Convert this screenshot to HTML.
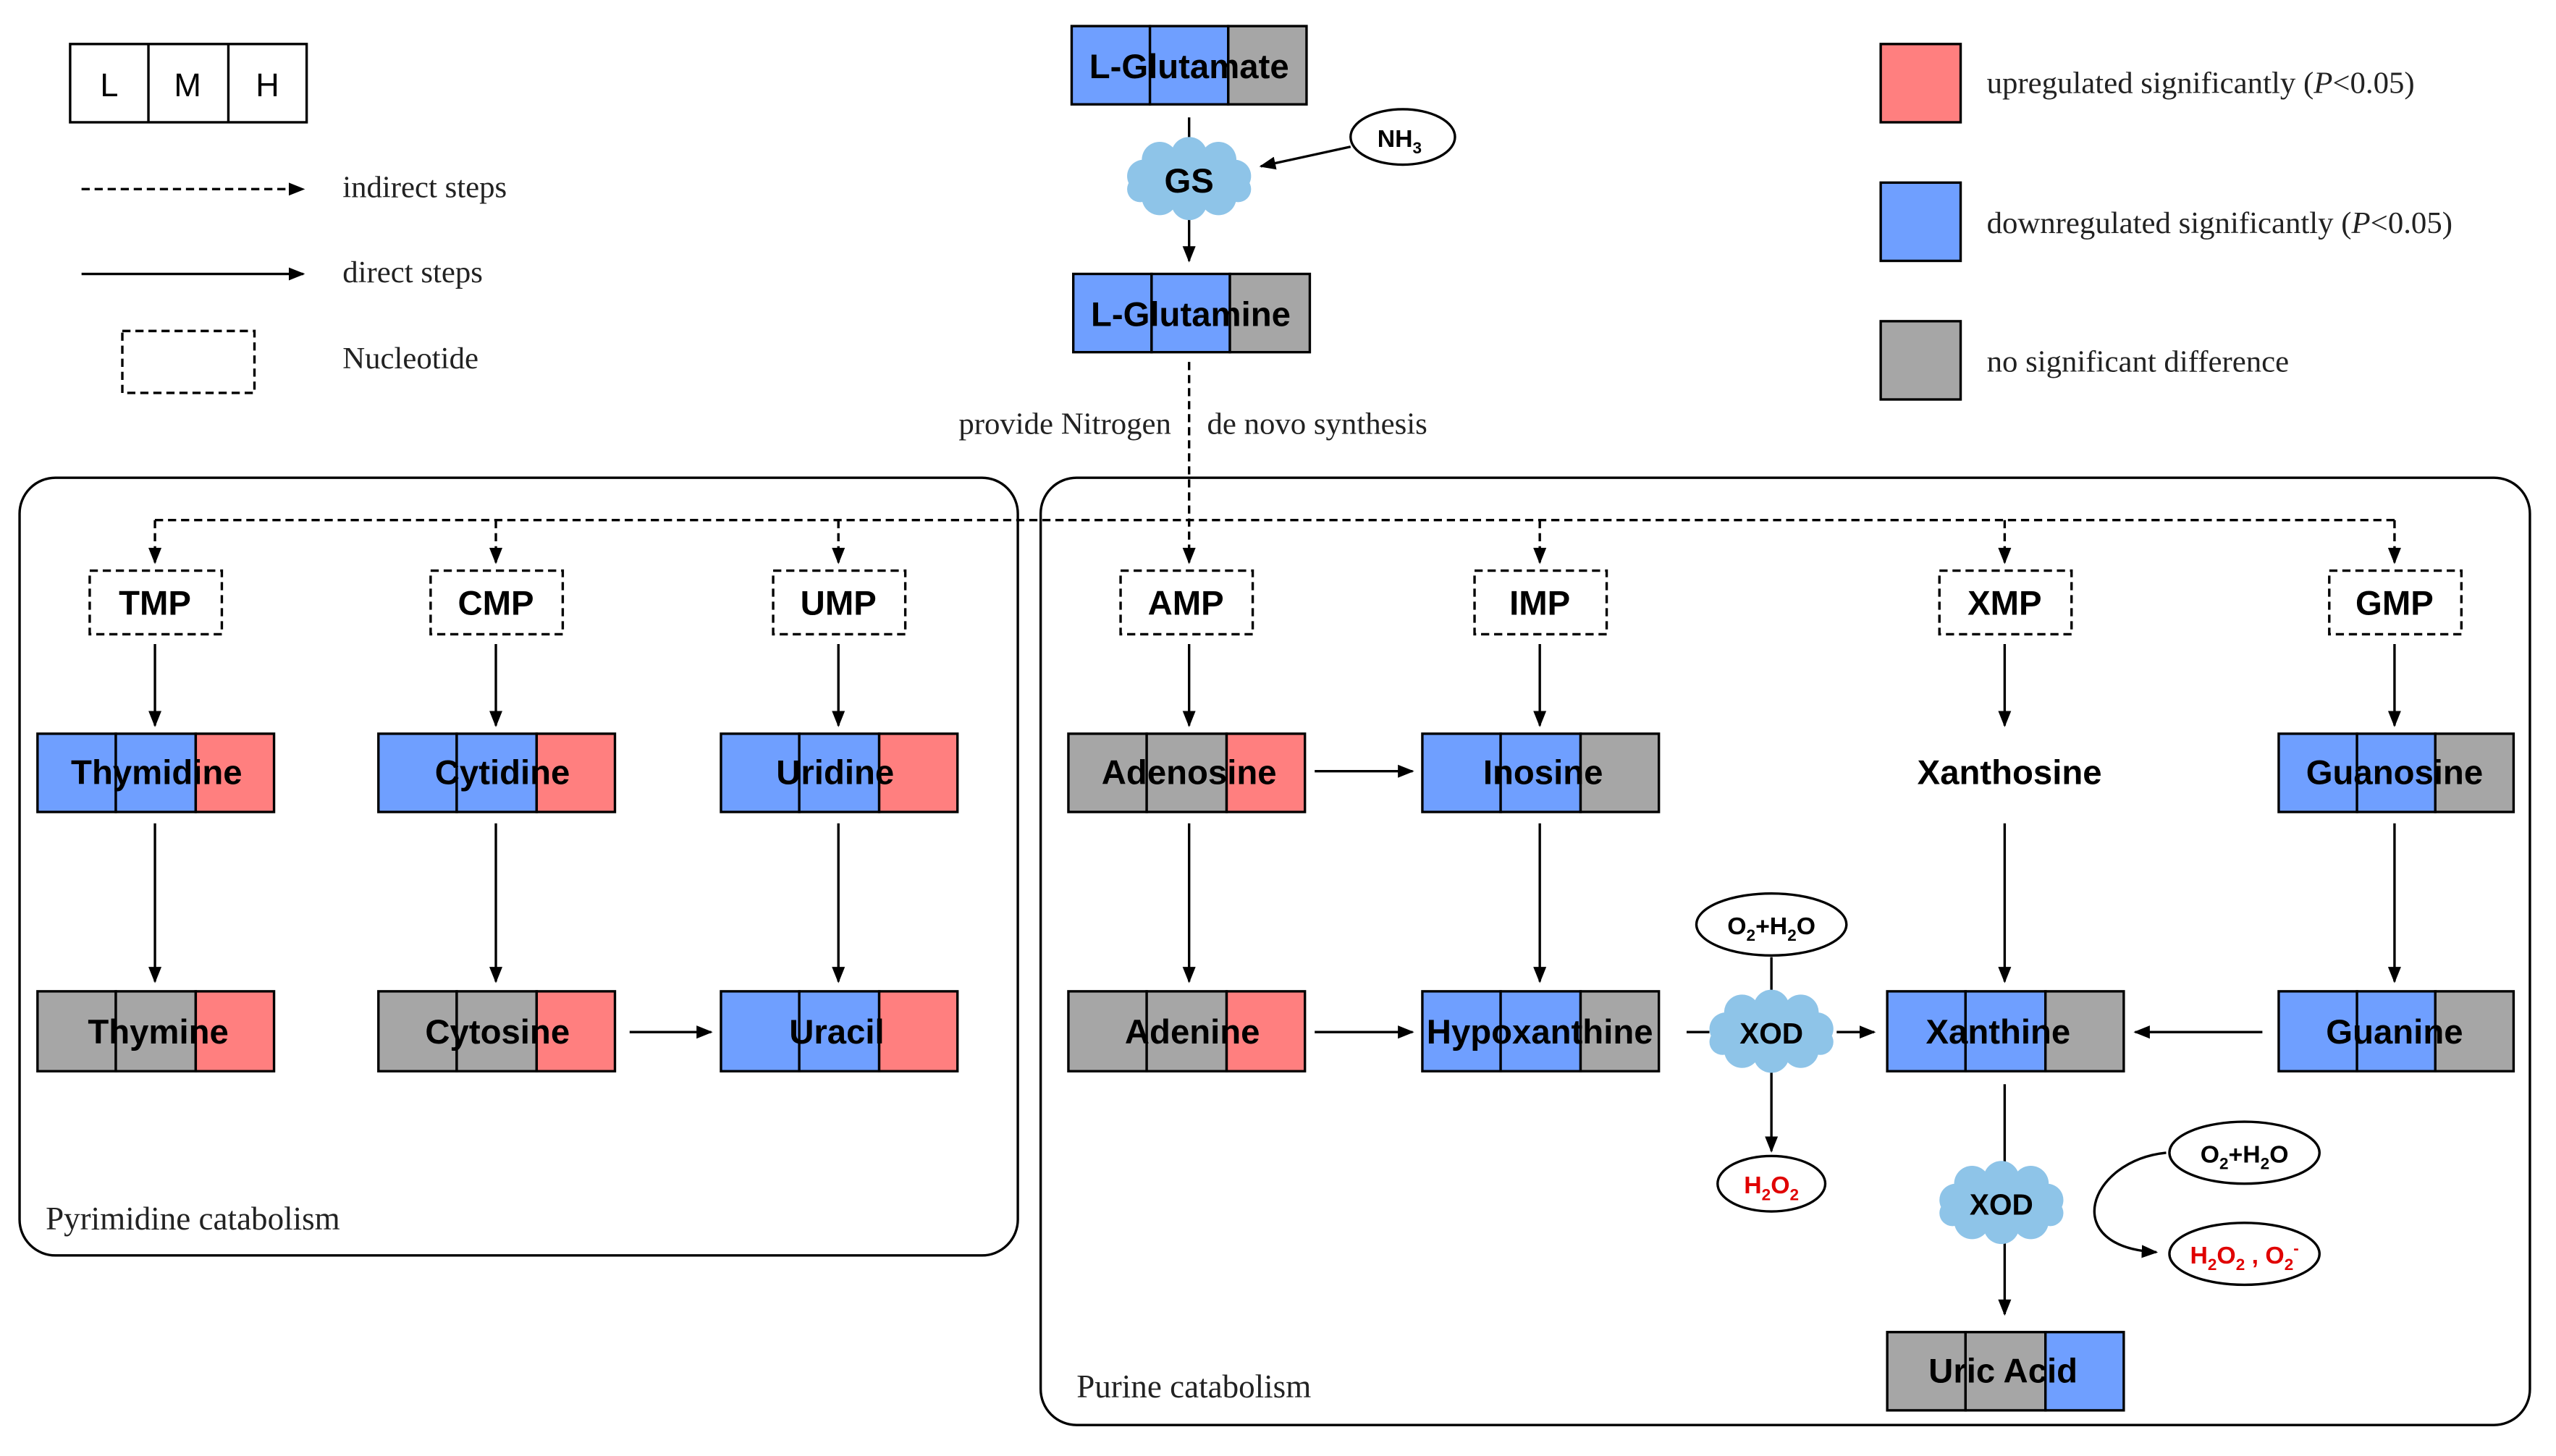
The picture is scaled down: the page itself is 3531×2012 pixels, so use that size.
<!DOCTYPE html>
<html><head><meta charset="utf-8"><style>
html,body{margin:0;padding:0;background:#fff}
svg{display:block}
.b{font-family:"Liberation Sans",Arial,sans-serif;font-weight:bold;fill:#000}
.s{font-family:"Liberation Serif","Times New Roman",serif;fill:#222}
</style></head><body>
<svg width="3531" height="2012" viewBox="0 0 1567 893" preserveAspectRatio="none" xmlns="http://www.w3.org/2000/svg">
<defs>
<marker id="ah" markerWidth="10" markerHeight="10" refX="9" refY="5" orient="auto" markerUnits="userSpaceOnUse"><path d="M0,1 L10,5 L0,9 z" fill="#000"/></marker>
<g id="cloud" fill="#8ec4e8">
<ellipse cx="0" cy="0" rx="32" ry="17"/>
<circle cx="-28" cy="-2" r="10"/><circle cx="28" cy="-2" r="10"/>
<circle cx="-18" cy="-12" r="11"/><circle cx="0" cy="-15" r="11"/><circle cx="18" cy="-12" r="11"/>
<circle cx="-18" cy="11" r="11"/><circle cx="0" cy="14" r="11"/><circle cx="18" cy="11" r="11"/>
<circle cx="-30" cy="6" r="8"/><circle cx="30" cy="6" r="8"/>
</g>
</defs>
<g stroke="#000" stroke-width="1.5" fill="none">
<rect x="43" y="27" width="145" height="48" fill="#fff"/>
<line x1="91" y1="27" x2="91" y2="75"/><line x1="140" y1="27" x2="140" y2="75"/>
<line x1="50" y1="116" x2="186" y2="116" stroke-dasharray="5,3" marker-end="url(#ah)"/>
<line x1="50" y1="168" x2="186" y2="168" marker-end="url(#ah)"/>
<rect x="75" y="203" width="81" height="38" stroke-dasharray="5,3"/>
<rect x="1153" y="27" width="49" height="48" fill="#ff7f7f"/>
<rect x="1153" y="112" width="49" height="48" fill="#6f9fff"/>
<rect x="1153" y="197" width="49" height="48" fill="#a6a6a6"/>
<rect x="12" y="293" width="612" height="477" rx="22"/>
<rect x="638" y="293" width="913" height="581" rx="22"/>
</g>
<text class="b" x="67" y="59" font-size="20" text-anchor="middle" style="font-weight:normal">L</text>
<text class="b" x="115" y="59" font-size="20" text-anchor="middle" style="font-weight:normal">M</text>
<text class="b" x="164" y="59" font-size="20" text-anchor="middle" style="font-weight:normal">H</text>
<text class="s" x="210" y="121" font-size="19">indirect steps</text>
<text class="s" x="210" y="173" font-size="19">direct steps</text>
<text class="s" x="210" y="226" font-size="19">Nucleotide</text>
<text class="s" x="1218" y="57" font-size="19">upregulated significantly  (<tspan font-style="italic">P</tspan>&lt;0.05)</text>
<text class="s" x="1218" y="143" font-size="19">downregulated significantly (<tspan font-style="italic">P</tspan>&lt;0.05)</text>
<text class="s" x="1218" y="228" font-size="19">no significant  difference</text>
<text class="s" x="28" y="754" font-size="20">Pyrimidine catabolism</text>
<text class="s" x="660" y="857" font-size="20">Purine catabolism</text>
<text class="s" x="718" y="266" font-size="19" text-anchor="end">provide Nitrogen</text>
<text class="s" x="740" y="266" font-size="19">de novo synthesis</text>

<g stroke="#000" stroke-width="1.5">
<rect x="657" y="16" width="48" height="48" fill="#6f9fff"/><rect x="705" y="16" width="48" height="48" fill="#6f9fff"/><rect x="753" y="16" width="48" height="48" fill="#a6a6a6"/>
<rect x="658" y="168" width="48" height="48" fill="#6f9fff"/><rect x="706" y="168" width="48" height="48" fill="#6f9fff"/><rect x="754" y="168" width="49" height="48" fill="#a6a6a6"/>
<rect x="23" y="450" width="48" height="48" fill="#6f9fff"/><rect x="71" y="450" width="49" height="48" fill="#6f9fff"/><rect x="120" y="450" width="48" height="48" fill="#ff7f7f"/>
<rect x="232" y="450" width="48" height="48" fill="#6f9fff"/><rect x="280" y="450" width="49" height="48" fill="#6f9fff"/><rect x="329" y="450" width="48" height="48" fill="#ff7f7f"/>
<rect x="442" y="450" width="48" height="48" fill="#6f9fff"/><rect x="490" y="450" width="49" height="48" fill="#6f9fff"/><rect x="539" y="450" width="48" height="48" fill="#ff7f7f"/>
<rect x="655" y="450" width="48" height="48" fill="#a6a6a6"/><rect x="703" y="450" width="49" height="48" fill="#a6a6a6"/><rect x="752" y="450" width="48" height="48" fill="#ff7f7f"/>
<rect x="872" y="450" width="48" height="48" fill="#6f9fff"/><rect x="920" y="450" width="49" height="48" fill="#6f9fff"/><rect x="969" y="450" width="48" height="48" fill="#a6a6a6"/>
<rect x="1397" y="450" width="48" height="48" fill="#6f9fff"/><rect x="1445" y="450" width="48" height="48" fill="#6f9fff"/><rect x="1493" y="450" width="48" height="48" fill="#a6a6a6"/>
<rect x="23" y="608" width="48" height="49" fill="#a6a6a6"/><rect x="71" y="608" width="49" height="49" fill="#a6a6a6"/><rect x="120" y="608" width="48" height="49" fill="#ff7f7f"/>
<rect x="232" y="608" width="48" height="49" fill="#a6a6a6"/><rect x="280" y="608" width="49" height="49" fill="#a6a6a6"/><rect x="329" y="608" width="48" height="49" fill="#ff7f7f"/>
<rect x="442" y="608" width="48" height="49" fill="#6f9fff"/><rect x="490" y="608" width="49" height="49" fill="#6f9fff"/><rect x="539" y="608" width="48" height="49" fill="#ff7f7f"/>
<rect x="655" y="608" width="48" height="49" fill="#a6a6a6"/><rect x="703" y="608" width="49" height="49" fill="#a6a6a6"/><rect x="752" y="608" width="48" height="49" fill="#ff7f7f"/>
<rect x="872" y="608" width="48" height="49" fill="#6f9fff"/><rect x="920" y="608" width="49" height="49" fill="#6f9fff"/><rect x="969" y="608" width="48" height="49" fill="#a6a6a6"/>
<rect x="1157" y="608" width="48" height="49" fill="#6f9fff"/><rect x="1205" y="608" width="49" height="49" fill="#6f9fff"/><rect x="1254" y="608" width="48" height="49" fill="#a6a6a6"/>
<rect x="1397" y="608" width="48" height="49" fill="#6f9fff"/><rect x="1445" y="608" width="48" height="49" fill="#6f9fff"/><rect x="1493" y="608" width="48" height="49" fill="#a6a6a6"/>
<rect x="1157" y="817" width="48" height="48" fill="#a6a6a6"/><rect x="1205" y="817" width="49" height="48" fill="#a6a6a6"/><rect x="1254" y="817" width="48" height="48" fill="#6f9fff"/>
</g>

<g stroke="#000" stroke-width="1.5" fill="#fff" stroke-dasharray="5,3">
<rect x="55" y="350" width="81" height="39"/><rect x="264" y="350" width="81" height="39"/><rect x="474" y="350" width="81" height="39"/>
<rect x="687" y="350" width="81" height="39"/><rect x="904" y="350" width="81" height="39"/><rect x="1189" y="350" width="81" height="39"/><rect x="1428" y="350" width="81" height="39"/>
</g>

<g stroke="#000" stroke-width="1.5" fill="none">
<line x1="729" y1="72" x2="729" y2="96"/>
<line x1="729" y1="130" x2="729" y2="160" marker-end="url(#ah)"/>
<line x1="828" y1="90" x2="773" y2="102" marker-end="url(#ah)"/>
<g stroke-dasharray="5,3">
<line x1="729" y1="222" x2="729" y2="345" marker-end="url(#ah)"/>
<line x1="95" y1="319" x2="1468" y2="319"/>
<line x1="95" y1="319" x2="95" y2="345" marker-end="url(#ah)"/>
<line x1="304" y1="319" x2="304" y2="345" marker-end="url(#ah)"/>
<line x1="514" y1="319" x2="514" y2="345" marker-end="url(#ah)"/>
<line x1="944" y1="319" x2="944" y2="345" marker-end="url(#ah)"/>
<line x1="1229" y1="319" x2="1229" y2="345" marker-end="url(#ah)"/>
<line x1="1468" y1="319" x2="1468" y2="345" marker-end="url(#ah)"/>
</g>
<line x1="95" y1="395" x2="95" y2="445" marker-end="url(#ah)"/>
<line x1="304" y1="395" x2="304" y2="445" marker-end="url(#ah)"/>
<line x1="514" y1="395" x2="514" y2="445" marker-end="url(#ah)"/>
<line x1="729" y1="395" x2="729" y2="445" marker-end="url(#ah)"/>
<line x1="944" y1="395" x2="944" y2="445" marker-end="url(#ah)"/>
<line x1="1229" y1="395" x2="1229" y2="445" marker-end="url(#ah)"/>
<line x1="1468" y1="395" x2="1468" y2="445" marker-end="url(#ah)"/>
<line x1="95" y1="505" x2="95" y2="602" marker-end="url(#ah)"/>
<line x1="304" y1="505" x2="304" y2="602" marker-end="url(#ah)"/>
<line x1="514" y1="505" x2="514" y2="602" marker-end="url(#ah)"/>
<line x1="729" y1="505" x2="729" y2="602" marker-end="url(#ah)"/>
<line x1="944" y1="505" x2="944" y2="602" marker-end="url(#ah)"/>
<line x1="1229" y1="505" x2="1229" y2="602" marker-end="url(#ah)"/>
<line x1="1468" y1="505" x2="1468" y2="602" marker-end="url(#ah)"/>
<line x1="806" y1="473" x2="866" y2="473" marker-end="url(#ah)"/>
<line x1="386" y1="633" x2="436" y2="633" marker-end="url(#ah)"/>
<line x1="806" y1="633" x2="866" y2="633" marker-end="url(#ah)"/>
<line x1="1034" y1="633" x2="1048" y2="633"/>
<line x1="1126" y1="633" x2="1149" y2="633" marker-end="url(#ah)"/>
<line x1="1387" y1="633" x2="1309" y2="633" marker-end="url(#ah)"/>
<line x1="1086" y1="587" x2="1086" y2="612"/>
<line x1="1086" y1="655" x2="1086" y2="706" marker-end="url(#ah)"/>
<line x1="1229" y1="665" x2="1229" y2="716"/>
<line x1="1229" y1="762" x2="1229" y2="806" marker-end="url(#ah)"/>
<path d="M1328,707 C1280,712 1262,765 1322,768" marker-end="url(#ah)"/>
<ellipse cx="860" cy="84" rx="32" ry="17" fill="#fff"/>
<ellipse cx="1086" cy="567" rx="46" ry="19" fill="#fff"/>
<ellipse cx="1086" cy="726" rx="33" ry="17" fill="#fff"/>
<ellipse cx="1376" cy="707" rx="46" ry="19" fill="#fff"/>
<ellipse cx="1376" cy="769" rx="46" ry="19" fill="#fff"/>
</g>

<use href="#cloud" x="729" y="110"/>
<use href="#cloud" x="1086" y="633"/>
<use href="#cloud" x="1227" y="738"/>

<g class="b" font-size="21" text-anchor="middle">
<text x="729" y="48">L-Glutamate</text>
<text x="730" y="200">L-Glutamine</text>
<text x="729" y="118">GS</text>
<text x="95" y="377">TMP</text><text x="304" y="377">CMP</text><text x="514" y="377">UMP</text>
<text x="727" y="377">AMP</text><text x="944" y="377">IMP</text><text x="1229" y="377">XMP</text><text x="1468" y="377">GMP</text>
<text x="96" y="481">Thymidine</text><text x="308" y="481">Cytidine</text><text x="512" y="481">Uridine</text>
<text x="729" y="481">Adenosine</text><text x="946" y="481">Inosine</text><text x="1232" y="481">Xanthosine</text><text x="1468" y="481">Guanosine</text>
<text x="97" y="640">Thymine</text><text x="305" y="640">Cytosine</text><text x="513" y="640">Uracil</text>
<text x="731" y="640">Adenine</text><text x="944" y="640">Hypoxanthine</text><text x="1225" y="640">Xanthine</text><text x="1468" y="640">Guanine</text>
<text x="1228" y="848">Uric Acid</text>
</g>
<g class="b" font-size="18" text-anchor="middle">
<text x="1086" y="640">XOD</text>
<text x="1227" y="745">XOD</text>
</g>
<g class="b" font-size="15" text-anchor="middle">
<text x="858" y="90">NH<tspan font-size="10" dy="4">3</tspan></text>
<text x="1086" y="573">O<tspan font-size="10" dy="4">2</tspan><tspan dy="-4">+H</tspan><tspan font-size="10" dy="4">2</tspan><tspan dy="-4">O</tspan></text>
<text x="1376" y="713">O<tspan font-size="10" dy="4">2</tspan><tspan dy="-4">+H</tspan><tspan font-size="10" dy="4">2</tspan><tspan dy="-4">O</tspan></text>
<text x="1086" y="732" style="fill:#e00000">H<tspan font-size="10" dy="4">2</tspan><tspan dy="-4">O</tspan><tspan font-size="10" dy="4">2</tspan></text>
<text x="1376" y="775" style="fill:#e00000">H<tspan font-size="10" dy="4">2</tspan><tspan dy="-4">O</tspan><tspan font-size="10" dy="4">2</tspan><tspan dy="-4"> , O</tspan><tspan font-size="10" dy="4">2</tspan><tspan font-size="10" dy="-10">-</tspan></text>
</g>
</svg>
</body></html>
